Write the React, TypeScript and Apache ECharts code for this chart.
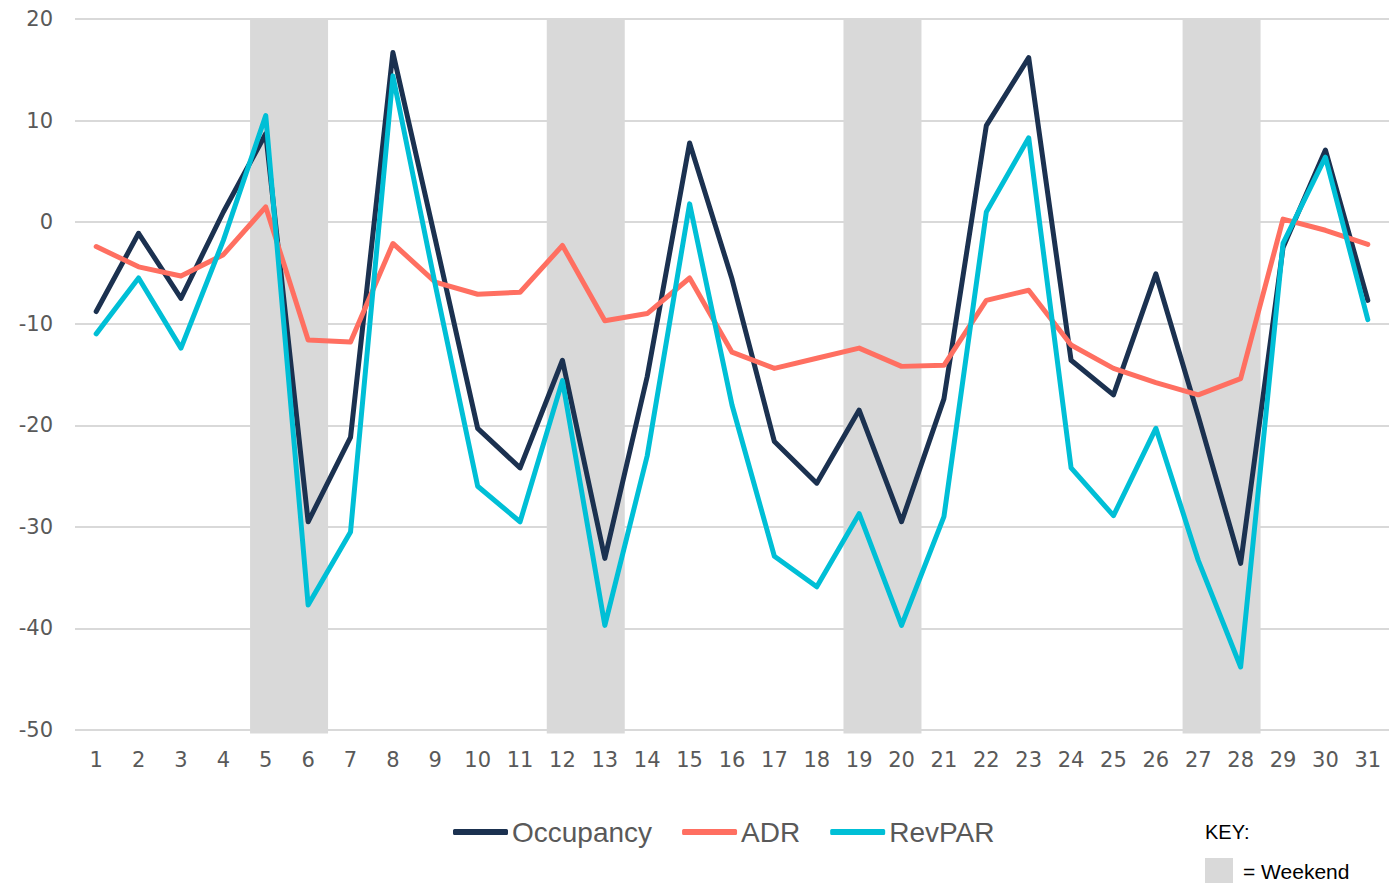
import React, { useEffect, useRef } from "react";
import * as echarts from "echarts";

const days = ["1","2","3","4","5","6","7","8","9","10","11","12","13","14","15","16","17","18","19","20","21","22","23","24","25","26","27","28","29","30","31"];
const yTicks = [-50, 20, 10];

const occupancy = [-8.8, -1.1, -7.5, 1.0, 8.7, -29.5, -21.2, 16.7, -1.7, -20.3, -24.2, -13.6, -33.1, -15.2, 7.8, -5.6, -21.6, -25.7, -18.5, -29.5, -17.4, 9.5, 16.2, -13.6, -17.0, -5.1, -19.1, -33.6, -2.5, 7.1, -7.7];
const adr = [-2.4, -4.4, -5.3, -3.2, 1.5, -11.6, -11.8, -2.1, -5.9, -7.1, -6.9, -2.3, -9.7, -9.0, -5.5, -12.8, -14.4, -13.4, -12.4, -14.2, -14.1, -7.7, -6.7, -12.1, -14.4, -15.8, -17.0, -15.4, 0.3, -0.8, -2.2];
const revpar = [-11.0, -5.5, -12.4, -1.8, 10.5, -37.7, -30.5, 14.4, -6.2, -26.0, -29.5, -15.6, -39.7, -23.0, 1.8, -18.0, -32.9, -35.9, -28.7, -39.7, -29.0, 1.0, 8.3, -24.2, -28.9, -20.3, -33.3, -43.8, -2.1, 6.4, -9.6];

const weekendStart = ["5", "12", "19", "27"];
const weekendEnd = ["6", "13", "20", "28"];

const seriesNames = ["Occupancy", "ADR", "RevPAR"];
const seriesColors = ["#1b3150", "#ff6f61", "#00bfd6"];

export default function App() {
  const ref = useRef<HTMLDivElement>(null);
  useEffect(() => {
    if (!ref.current) return;
    const chart = echarts.init(ref.current, null, { renderer: "svg" });
    const [yMin, yMax, yInt] = yTicks;
    const bandData = weekendStart.map((s, i) => [days.indexOf(s), days.indexOf(weekendEnd[i]), yMax, yMin]);
    const lineData = [occupancy, adr, revpar];
    const option: any = {
      animation: false,
      backgroundColor: "#ffffff",
      grid: { left: 75, right: 8, top: 19, bottom: 153, containLabel: false },
      legend: {
        data: seriesNames,
        left: 448,
        top: 813,
        icon: "roundRect",
        itemWidth: 55,
        itemHeight: 6,
        itemGap: 30,
        textStyle: { fontFamily: "Liberation Sans", fontSize: 28, color: "#595959", padding: [0, 0, 0, -1] },
      },
      xAxis: {
        type: "category",
        data: days,
        boundaryGap: true,
        axisLine: { show: false },
        axisTick: { show: false },
        axisLabel: { color: "#595959", fontFamily: "DejaVu Sans", fontSize: 21, margin: 19, interval: 0 },
        splitLine: { show: false },
      },
      yAxis: {
        type: "value",
        min: yMin,
        max: yMax,
        interval: yInt,
        axisLine: { show: false },
        axisTick: { show: false },
        axisLabel: { color: "#595959", fontFamily: "DejaVu Sans", fontSize: 21, margin: 22 },
        splitLine: { lineStyle: { color: "#d9d9d9", width: 2 } },
      },
      series: [
        {
          type: "custom",
          name: "Weekend",
          z: 1,
          silent: true,
          encode: { x: [0, 1], y: [2, 3] },
          data: bandData,
          renderItem: (params: any, api: any) => {
            const s = api.value(0);
            const e = api.value(1);
            const w = api.size([1, 0])[0];
            const top = api.coord([s, api.value(2)]);
            const bot = api.coord([s, api.value(3)]);
            const x0 = top[0] - 0.37 * w;
            const x1 = api.coord([e, api.value(2)])[0] + 0.47 * w;
            return {
              type: "rect",
              shape: { x: x0, y: top[1], width: x1 - x0, height: bot[1] - top[1] + 3.5 },
              style: { fill: "#d9d9d9" },
            };
          },
        },
        ...seriesNames.map((name, i) => ({
          type: "line",
          name,
          data: lineData[i],
          z: 3 + i,
          symbol: "none",
          color: seriesColors[i],
          lineStyle: { color: seriesColors[i], width: 5, cap: "round", join: "round" },
        })),
      ],
      graphic: [
        {
          type: "text",
          x: 1205,
          y: 832,
          style: { text: "KEY:", fontFamily: "Liberation Sans", fontSize: 20, fill: "#000000", verticalAlign: "middle" },
        },
        {
          type: "rect",
          left: 1205,
          top: 858,
          shape: { width: 28, height: 25 },
          style: { fill: "#d9d9d9" },
        },
        {
          type: "text",
          x: 1243,
          y: 871,
          style: { text: "= Weekend", fontFamily: "Liberation Sans", fontSize: 21, fill: "#000000", verticalAlign: "middle" },
        },
      ],
    };
    chart.setOption(option);
    return () => chart.dispose();
  }, []);
  return <div ref={ref} style={{ position: "fixed", left: 0, top: 0, width: 1397, height: 883 }} />;
}
